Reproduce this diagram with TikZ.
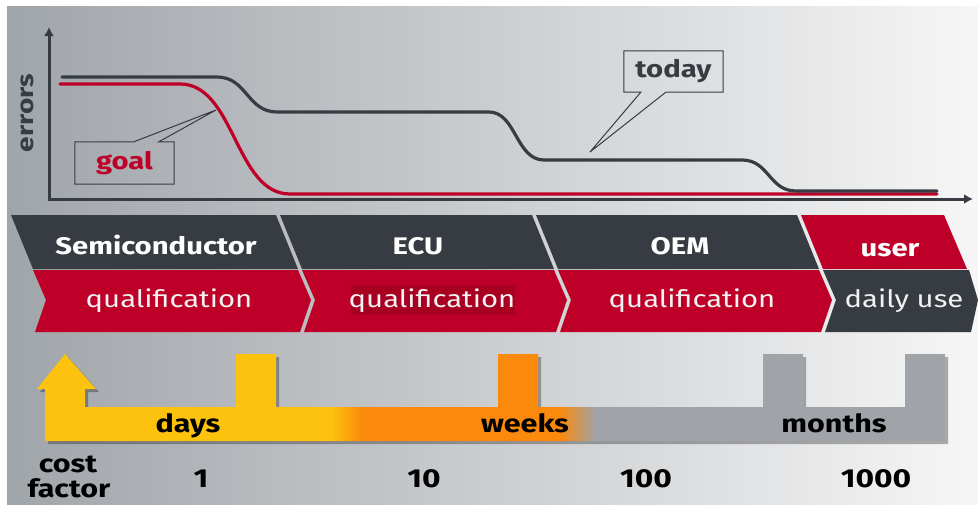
\documentclass[tikz,border=0pt]{standalone}
\usepackage{fontspec}
\setmainfont{Fira Sans}[FakeStretch=1.22]
\usetikzlibrary{arrows.meta}
\definecolor{dk}{RGB}{55,60,67}
\definecolor{rd}{RGB}{190,0,40}
\definecolor{rdd}{RGB}{168,0,33}
\definecolor{yl}{RGB}{253,194,14}
\definecolor{og}{RGB}{250,137,12}
\definecolor{gy}{RGB}{160,164,168}
\definecolor{bgL}{RGB}{160,165,170}
\definecolor{bgM}{RGB}{206,209,212}
\definecolor{bgR}{RGB}{246,246,246}
\begin{document}
\begin{tikzpicture}[x=1pt,y=-1pt,
  lbl/.style={inner sep=0pt, text=black, font=\fontsize{24}{26}\selectfont\bfseries},
  blbl/.style={inner sep=0pt, text=black, anchor=base, font=\fontsize{25}{27}\selectfont\bfseries},
  nlbl/.style={inner sep=0pt, text=black, anchor=base, font=\fontsize{26}{28}\selectfont\bfseries},
  hd/.style={inner sep=0pt, text=white, anchor=base, font=\fontsize{24}{26}\selectfont\bfseries},
  sub/.style={inner sep=0pt, text=white!90!gray, anchor=base, font=\fontsize{24}{26}\selectfont},
  curve/.style={line width=3.2pt, line cap=round},
  bubble/.style={draw=dk, line width=1pt},
  axis/.style={draw=dk, line width=3pt, -{Latex[length=9pt,width=10pt]}},
  shadowfill/.style={fill=black, fill opacity=0.3},
]
\useasboundingbox (0,0) rectangle (978,504);
\fill[white] (0,0) rectangle (978,504);
\shade[left color=bgL, middle color=bgM, right color=bgR] (7,6) rectangle (978,504);

% axes
\coordinate (origin) at (49,199);
\coordinate (ytop) at (49,27);
\coordinate (xend) at (973,199);
\draw[axis] (origin) -- (ytop);
\draw[axis] ([xshift=-1.5pt]origin) -- (xend);
\node[lbl, text=dk, rotate=90, font=\fontsize{23}{25}\selectfont\bfseries] (errors) at (27,113) {errors};

% curves
\draw[curve, rd] (60,84) -- (180,84) .. controls (235,84) and (235,194) .. (290,194) -- (937,194);
\draw[curve, dk] (62,77) -- (217,77) .. controls (247,77) and (247,112) .. (277,112)
  -- (489,112) .. controls (516,112) and (516,160) .. (544,160)
  -- (742,160) .. controls (769,160) and (769,191) .. (796,191) -- (937,191);

% callouts
\coordinate (goaltip) at (216,110);
\node[lbl, text=rd, minimum width=99pt, minimum height=42pt] (goal) at (124.5,163) {goal};
\draw[bubble] (goal.north west) -- ([xshift=59pt]goal.north west) -- (goaltip)
  -- ([xshift=84pt]goal.north west) -- (goal.north east) -- (goal.south east)
  -- (goal.south west) -- cycle;
\coordinate (todaytip) at (590,152);
\node[lbl, text=dk, minimum width=99pt, minimum height=41pt] (today) at (673.5,71.5) {today};
\draw[bubble] (today.south west) -- ([xshift=17pt]today.south west) -- (todaytip)
  -- ([xshift=42pt]today.south west) -- (today.south east) -- (today.north east)
  -- (today.north west) -- cycle;

% chevrons: top row
\fill[dk] (11,215) -- (276,215) -- (298,269) -- (33,269) -- cycle;
\fill[dk] (280,215) -- (532,215) -- (554,269) -- (302,269) -- cycle;
\fill[dk] (536,215) -- (797,215) -- (819,269) -- (558,269) -- cycle;
\fill[rd] (801,215) -- (944,215) -- (967,269) -- (823,269) -- cycle;
% bottom row
\fill[rd] (33,270) -- (298,270) -- (311,300) -- (300,332) -- (35,332) -- (46,300) -- cycle;
\fill[rd] (302,270) -- (554,270) -- (567,300) -- (556,332) -- (304,332) -- (315,300) -- cycle;
\fill[rd] (558,270) -- (819,270) -- (832,300) -- (821,332) -- (560,332) -- (571,300) -- cycle;
\fill[dk] (823,270) -- (969,270) -- (978,300) -- (971,332) -- (825,332) -- (836,300) -- cycle;
\fill[rdd] (351,285) rectangle (515,315);

\node[hd] (semi) at (156,254) {Semiconductor};
\node[hd] (ecu) at (418,254) {ECU};
\node[hd] (oem) at (680,254) {OEM};
\node[hd] (user) at (890,256) {user};
\node[sub] (q1) at (169,307) {qualification};
\node[sub] (q2) at (432,307) {qualification};
\node[sub] (q3) at (692,307) {qualification};
\node[sub] (daily) at (904,307) {daily use};

% bottom band shadow
\begin{scope}[shift={(3,3)}]
\fill[shadowfill] (45,441) -- (45,389) -- (37,389) -- (65,354) -- (96,389) -- (85,389) -- (85,407)
  -- (236,407) -- (236,354) -- (276,354) -- (276,407) -- (498,407) -- (498,354) -- (538,354) -- (538,407)
  -- (763,407) -- (763,354) -- (803,354) -- (803,407) -- (905,407) -- (905,354) -- (945,354) -- (945,441) -- cycle;
\end{scope}
\begin{scope}
\clip (45,441) -- (45,389) -- (37,389) -- (65,354) -- (96,389) -- (85,389) -- (85,407)
  -- (236,407) -- (236,354) -- (276,354) -- (276,407) -- (498,407) -- (498,354) -- (538,354) -- (538,407)
  -- (763,407) -- (763,354) -- (803,354) -- (803,407) -- (905,407) -- (905,354) -- (945,354) -- (945,441) -- cycle;
\fill[yl] (30,340) rectangle (332,450);
\shade[left color=yl, right color=og] (331,340) rectangle (362,450);
\fill[og] (361,340) rectangle (561,450);
\shade[left color=og, right color=gy] (560,340) rectangle (596,450);
\fill[gy] (595,340) rectangle (960,450);
\end{scope}

\node[blbl] (days) at (188,432) {days};
\node[blbl] (weeks) at (525,432) {weeks};
\node[blbl] (months) at (834,432) {months};

\node[blbl] (cost) at (68,472) {cost};
\node[blbl] (factor) at (69,497) {factor};
\node[nlbl] (c1) at (201,487) {1};
\node[nlbl] (c10) at (424,487) {10};
\node[nlbl] (c100) at (646,487) {100};
\node[nlbl] (c1000) at (876,487) {1000};
\end{tikzpicture}
\end{document}
